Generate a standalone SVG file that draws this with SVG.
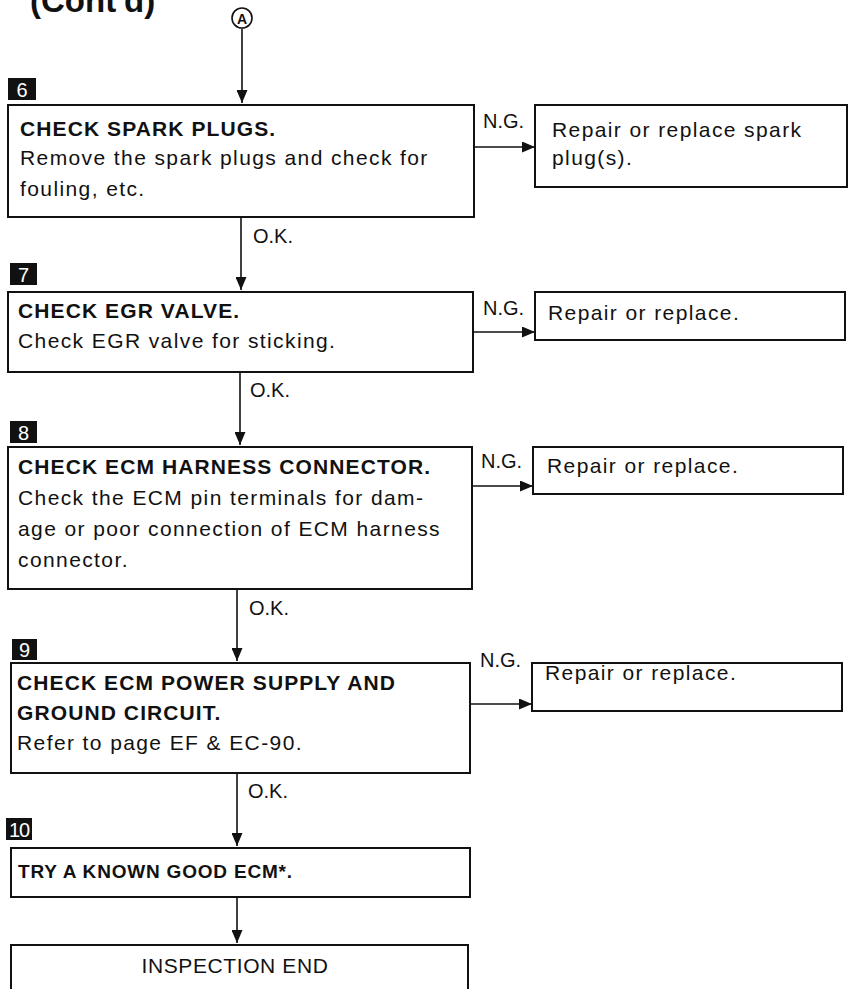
<svg xmlns="http://www.w3.org/2000/svg" width="848" height="989" viewBox="0 0 848 989">
<style>
  .box { fill: #fff; stroke: #111; stroke-width: 2; }
  .conn { stroke: #111; stroke-width: 1.6; fill: none; }
  .h { font-family: "Liberation Sans", Arial, sans-serif; font-weight: bold; font-size: 21px; letter-spacing: 1.1px; fill: #111; }
  .t { font-family: "Liberation Sans", Arial, sans-serif; font-size: 21px; letter-spacing: 1.4px; fill: #111; }
  .lbl { font-family: "Liberation Sans", Arial, sans-serif; font-size: 20px; fill: #111; }
  .num { fill: #111; }
  .numt { font-family: "Liberation Sans", Arial, sans-serif; font-size: 20px; fill: #fff; }
  .title { font-family: "Liberation Sans", Arial, sans-serif; font-weight: bold; font-size: 33px; fill: #111; }
</style>
<defs>
  <marker id="arr" markerUnits="userSpaceOnUse" markerWidth="13" markerHeight="11" refX="13" refY="5.5" orient="auto">
    <path d="M0,0 L13,5.5 L0,11 z" fill="#111"/>
  </marker>
</defs>
<rect width="848" height="989" fill="#fff"/>

<text class="title" x="30" y="12">(Cont'd)</text>

<g id="startA">
  <circle cx="242" cy="18" r="10" fill="#fff" stroke="#111" stroke-width="1.6"/>
  <text x="242" y="23.5" text-anchor="middle" font-family="Liberation Sans, Arial, sans-serif" font-weight="bold" font-size="14" fill="#111">A</text>
</g>

<g id="connectors">
  <line class="conn" x1="242" y1="29" x2="242" y2="103" marker-end="url(#arr)"/>
  <line class="conn" x1="241" y1="217" x2="241" y2="290" marker-end="url(#arr)"/>
  <line class="conn" x1="240" y1="372" x2="240" y2="445" marker-end="url(#arr)"/>
  <line class="conn" x1="237" y1="589" x2="237" y2="661" marker-end="url(#arr)"/>
  <line class="conn" x1="237" y1="773" x2="237" y2="846" marker-end="url(#arr)"/>
  <line class="conn" x1="237" y1="897" x2="237" y2="943" marker-end="url(#arr)"/>
  <line class="conn" x1="474" y1="147" x2="535" y2="147" marker-end="url(#arr)"/>
  <line class="conn" x1="473" y1="332" x2="535" y2="332" marker-end="url(#arr)"/>
  <line class="conn" x1="472" y1="486" x2="533" y2="486" marker-end="url(#arr)"/>
  <line class="conn" x1="470" y1="704" x2="532" y2="704" marker-end="url(#arr)"/>
  <text class="lbl" x="253" y="243">O.K.</text>
  <text class="lbl" x="250" y="397">O.K.</text>
  <text class="lbl" x="249" y="615">O.K.</text>
  <text class="lbl" x="248" y="798">O.K.</text>
  <text class="lbl" x="483" y="128">N.G.</text>
  <text class="lbl" x="483" y="315">N.G.</text>
  <text class="lbl" x="481" y="468">N.G.</text>
  <text class="lbl" x="480" y="667">N.G.</text>
</g>

<g id="step6">
  <rect class="num" x="8" y="78" width="28" height="22"/>
  <text class="numt" x="22" y="97" text-anchor="middle">6</text>
  <rect class="box" x="8" y="105" width="466" height="112"/>
  <text class="h" x="20" y="136">CHECK SPARK PLUGS.</text>
  <text class="t" x="20" y="165">Remove the spark plugs and check for</text>
  <text class="t" x="20" y="196">fouling, etc.</text>
</g>
<g id="ng6">
  <rect class="box" x="535" y="105" width="312" height="82"/>
  <text class="t" x="552" y="137">Repair or replace spark</text>
  <text class="t" x="552" y="165">plug(s).</text>
</g>

<g id="step7">
  <rect class="num" x="10" y="263" width="27" height="22"/>
  <text class="numt" x="23.5" y="282" text-anchor="middle">7</text>
  <rect class="box" x="8" y="292" width="465" height="80"/>
  <text class="h" x="18" y="318">CHECK EGR VALVE.</text>
  <text class="t" x="18" y="348">Check EGR valve for sticking.</text>
</g>
<g id="ng7">
  <rect class="box" x="535" y="292" width="310" height="48"/>
  <text class="t" x="548" y="320">Repair or replace.</text>
</g>

<g id="step8">
  <rect class="num" x="10" y="421" width="27" height="22"/>
  <text class="numt" x="23.5" y="440" text-anchor="middle">8</text>
  <rect class="box" x="8" y="447" width="464" height="142"/>
  <text class="h" x="18" y="474">CHECK ECM HARNESS CONNECTOR.</text>
  <text class="t" x="18" y="505">Check the ECM pin terminals for dam-</text>
  <text class="t" x="18" y="536">age or poor connection of ECM harness</text>
  <text class="t" x="18" y="567">connector.</text>
</g>
<g id="ng8">
  <rect class="box" x="533" y="447" width="310" height="47"/>
  <text class="t" x="547" y="473">Repair or replace.</text>
</g>

<g id="step9">
  <rect class="num" x="12" y="639" width="25" height="21"/>
  <text class="numt" x="24.5" y="657" text-anchor="middle">9</text>
  <rect class="box" x="11" y="663" width="459" height="110"/>
  <text class="h" x="17" y="690">CHECK ECM POWER SUPPLY AND</text>
  <text class="h" x="17" y="720">GROUND CIRCUIT.</text>
  <text class="t" x="17" y="750">Refer to page EF &amp; EC-90.</text>
</g>
<g id="ng9">
  <rect class="box" x="532" y="663" width="310" height="48"/>
  <text class="t" x="545" y="680">Repair or replace.</text>
</g>

<g id="step10">
  <rect class="num" x="6" y="818" width="26" height="22"/>
  <text class="numt" x="19" y="837" text-anchor="middle" letter-spacing="-1">10</text>
  <rect class="box" x="11" y="848" width="459" height="49"/>
  <text class="h" x="18" y="878" style="font-size:19px;letter-spacing:0.8px">TRY A KNOWN GOOD ECM*.</text>
</g>

<g id="end">
  <rect class="box" x="11" y="945" width="457" height="60"/>
  <text class="t" x="235" y="973" text-anchor="middle" style="letter-spacing:0.6px">INSPECTION END</text>
</g>
</svg>
